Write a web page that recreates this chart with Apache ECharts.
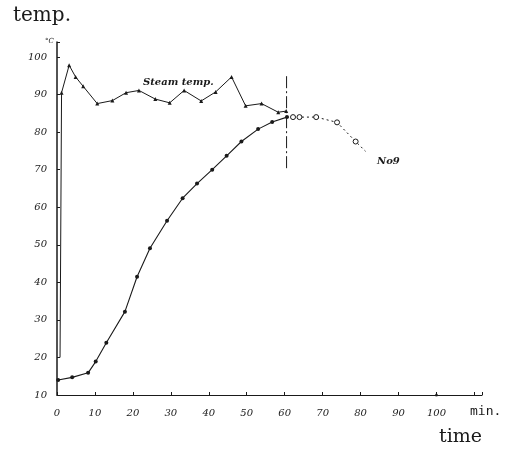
<!DOCTYPE html>
<html>
<head>
<meta charset="utf-8">
<script src="https://cdn.jsdelivr.net/npm/echarts@6/dist/echarts.min.js"></script>
<style>
  html, body { margin: 0; padding: 0; background: #fff; }
  #chart { width: 516px; height: 450px; }
</style>
</head>
<body>
<div id="chart"></div>
<script>
// steam temperature (x marks)
const steamTime = [0.8, 1.2, 3.2, 4.9, 6.9, 10.6, 14.6, 18.2, 21.6, 25.9, 29.7, 33.5, 38, 41.8, 46, 49.7, 53.9, 58.3, 60.4];
const steamTemp = [20, 90.5, 97.8, 94.7, 92.2, 87.6, 88.4, 90.5, 91.1, 88.8, 87.8, 91.1, 88.3, 90.7, 94.7, 87, 87.6, 85.3, 85.6];

// No.9 heating curve (filled dots)
const heatTime = [0.3, 4, 8.2, 10.2, 13, 17.9, 21.1, 24.5, 29, 33.1, 36.9, 40.9, 44.7, 48.6, 53, 56.7, 60.6];
const heatTemp = [14, 14.7, 15.9, 18.9, 23.9, 32.2, 41.5, 49.1, 56.4, 62.4, 66.3, 70, 73.7, 77.5, 80.8, 82.7, 84];

// after steam cut off (open circles, dotted)
const coolTime = [60.6, 62.2, 63.9, 68.3, 73.8, 78.7, 81.3];
const coolTemp = [84, 84, 84, 84, 82.6, 77.5, 74.9];

// dash-dot line where the steam was stopped
const cutTime = [60.5, 60.5];
const cutTemp = [70.4, 95.2];

const xTicks = [0, 10, 20, 30, 40, 50, 60, 70, 80, 90, 100];
const yTicks = [10, 20, 30, 40, 50, 60, 70, 80, 90, 100];

const ink = '#1a1a1a';
const hand = 'italic bold 10px "DejaVu Serif"';

const pairs = (xs, ys) => xs.map((x, i) => [x, ys[i]]);

const chart = echarts.init(document.getElementById('chart'));

const option = {
  backgroundColor: '#fff',
  animation: false,
  grid: { left: 57, right: 34, top: 42, bottom: 55 },
  xAxis: {
    type: 'value',
    min: 0,
    max: 112,
    interval: 10,
    splitLine: { show: false },
    axisLine: { lineStyle: { color: ink, width: 1.2 } },
    axisTick: { inside: true, length: 3, lineStyle: { color: ink } },
    axisLabel: {
      color: ink,
      fontFamily: 'DejaVu Serif',
      fontStyle: 'italic',
      fontSize: 10,
      margin: 13,
      formatter: v => (xTicks.includes(v) ? String(v) : '')
    }
  },
  yAxis: {
    type: 'value',
    min: 10,
    max: 104,
    interval: 10,
    splitLine: { show: false },
    axisLine: { lineStyle: { color: ink, width: 1.5 } },
    axisTick: { inside: true, length: 3, lineStyle: { color: ink } },
    axisLabel: {
      color: ink,
      fontFamily: 'DejaVu Serif',
      fontStyle: 'italic',
      fontSize: 10,
      margin: 10,
      formatter: v => (yTicks.includes(v) ? String(v) : '')
    }
  },
  series: [
    {
      type: 'line',
      data: pairs(steamTime, steamTemp).map((p, i) => (i === 0 ? { value: p, symbol: 'none' } : p)),
      symbol: 'triangle',
      symbolSize: 4,
      lineStyle: { color: ink, width: 1 },
      itemStyle: { color: ink }
    },
    {
      type: 'line',
      data: pairs(heatTime, heatTemp),
      symbol: 'circle',
      symbolSize: 4,
      lineStyle: { color: ink, width: 1.1 },
      itemStyle: { color: ink }
    },
    {
      type: 'line',
      data: pairs(coolTime, coolTemp).map((p, i, a) => (i === 0 || i === a.length - 1 ? { value: p, symbol: 'none' } : p)),
      symbol: 'circle',
      symbolSize: 5,
      lineStyle: { color: ink, width: 1, type: [2, 3] },
      itemStyle: { color: '#fff', borderColor: ink, borderWidth: 1 }
    },
    {
      type: 'line',
      data: pairs(cutTime, cutTemp),
      symbol: 'none',
      lineStyle: { color: ink, width: 1, type: [12, 3, 2, 3] }
    },
    {
      type: 'scatter',
      data: [[100, 10]],
      symbolSize: 3,
      itemStyle: { color: ink }
    }
  ],
  graphic: [
    { type: 'text', left: 13, top: 6, style: { text: 'temp.', font: '20px "DejaVu Serif"', fill: ink } },
    { type: 'text', left: 439, top: 428, style: { text: 'time', font: '19px "DejaVu Serif"', fill: ink } },
    { type: 'text', left: 470, top: 405, style: { text: 'min.', font: '13px "DejaVu Sans Mono"', fill: ink } },
    { type: 'text', left: 45, top: 38, style: { text: '°C', font: 'italic 7px "DejaVu Serif"', fill: ink } },
    { type: 'text', left: 143, top: 77, style: { text: 'Steam temp.', font: hand, fill: ink } },
    { type: 'text', left: 377, top: 156, style: { text: 'No9', font: hand, fill: ink } }
  ]
};

chart.setOption(option);
</script>
</body>
</html>
